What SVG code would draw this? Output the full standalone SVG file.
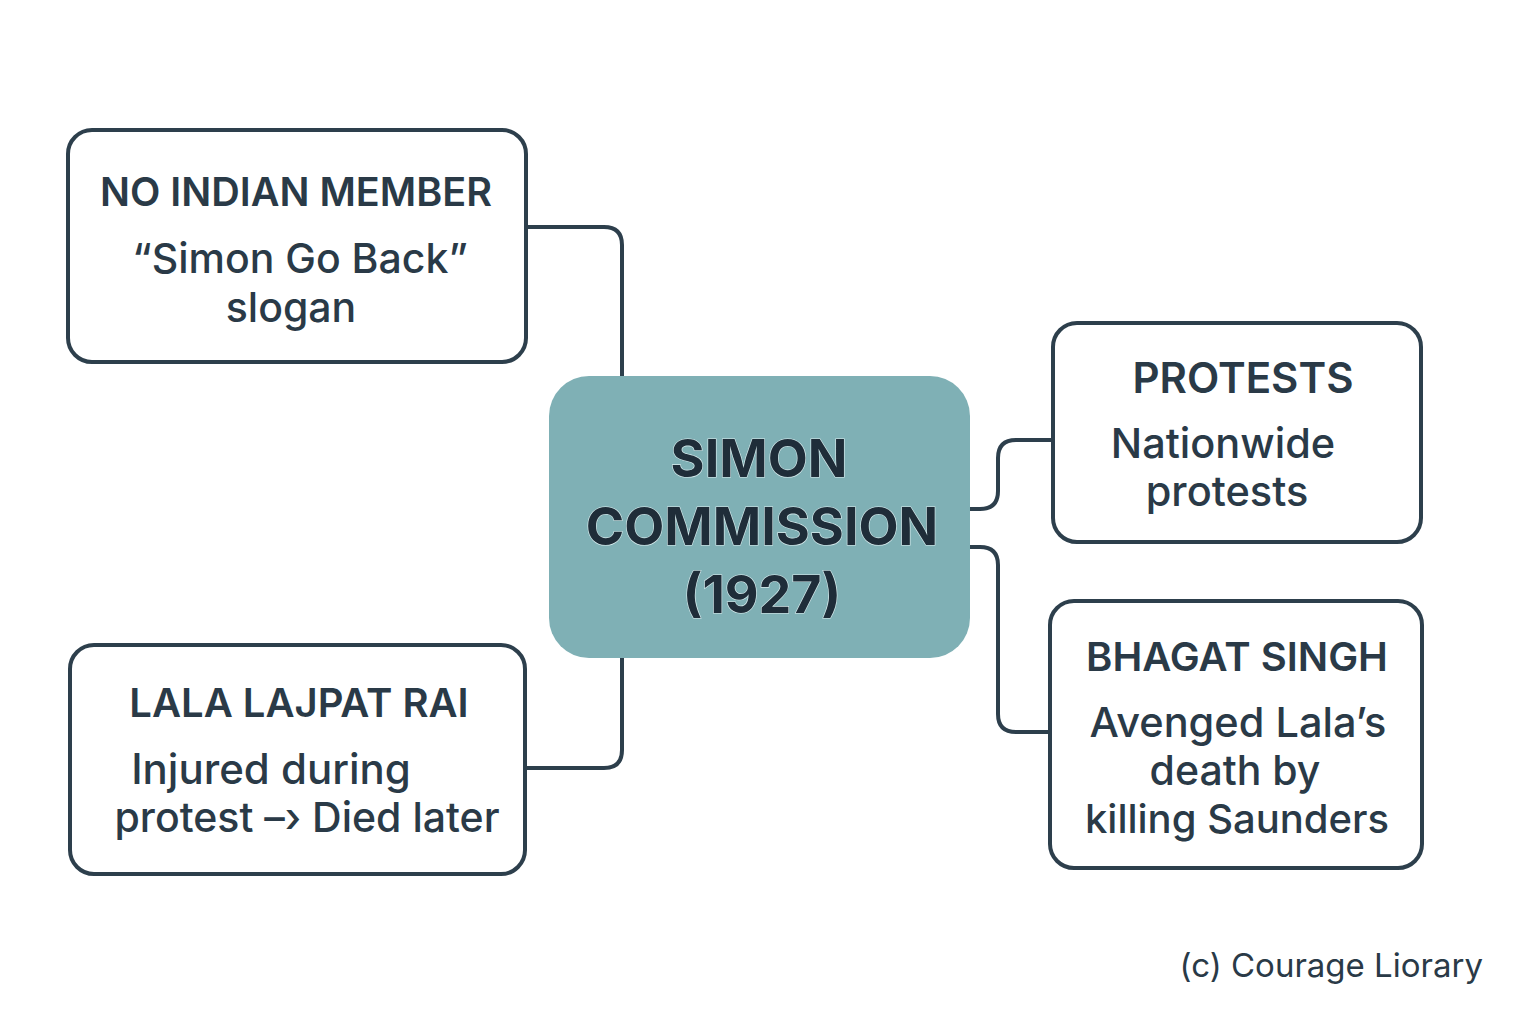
<svg xmlns="http://www.w3.org/2000/svg" width="1536" height="1024" viewBox="0 0 1536 1024">
<style>
.box{fill:#ffffff;stroke:#2d3f4c;stroke-width:4}
.conn{fill:none;stroke:#2d3f4c;stroke-width:4}
text{font-family:Inter,"Noto Sans","Liberation Sans",sans-serif;fill:#2a3a47;text-anchor:middle}
.h{font-size:39px;font-weight:600}
.b{font-size:41px;font-weight:500}
.c{font-size:52px;font-weight:700;fill:#1f2d39;stroke:#d8ecee;stroke-width:1.2;paint-order:stroke}
.f{font-size:33px;font-weight:400;text-anchor:end}
</style>
<rect width="1536" height="1024" fill="#ffffff"/>
<g id="connectors">
<path class="conn" d="M526 227 H604 Q622 227 622 245 V376"/>
<path class="conn" d="M622 658 V750 Q622 768 604 768 H526"/>
<path class="conn" d="M970 509 H980 Q998 509 998 491 V458 Q998 440 1016 440 H1053"/>
<path class="conn" d="M970 547 H980 Q998 547 998 565 V714 Q998 732 1016 732 H1050"/>
</g>
<g id="center">
<rect x="549" y="376" width="421" height="282" rx="40" fill="#7fb0b5"/>
<text class="c" x="759" y="477">SIMON</text>
<text class="c" x="762" y="545">COMMISSION</text>
<text class="c" x="762" y="613">(1927)</text>
</g>
<g id="no-indian-member">
<rect class="box" x="68" y="130" width="458" height="232" rx="24"/>
<text class="h" x="296" y="206" style="font-size:39.5px">NO INDIAN MEMBER</text>
<text class="b" x="300" y="273">“Simon Go Back”</text>
<text class="b" x="291" y="322">slogan</text>
</g>
<g id="lala-lajpat-rai">
<rect class="box" x="70" y="645" width="455" height="229" rx="24"/>
<text class="h" x="299" y="717" style="font-size:40px">LALA LAJPAT RAI</text>
<text class="b" x="271" y="784" style="font-size:42px">Injured during</text>
<text class="b" x="307" y="832">protest –› Died later</text>
</g>
<g id="protests">
<rect class="box" x="1053" y="323" width="368" height="219" rx="24"/>
<text class="h" x="1243" y="393" style="font-size:42px">PROTESTS</text>
<text class="b" x="1223" y="458" style="font-size:41.5px">Nationwide</text>
<text class="b" x="1227" y="506" style="font-size:41.5px">protests</text>
</g>
<g id="bhagat-singh">
<rect class="box" x="1050" y="601" width="372" height="267" rx="24"/>
<text class="h" x="1237" y="671" style="font-size:40px">BHAGAT SINGH</text>
<text class="b" x="1238" y="737" style="font-size:41.5px">Avenged Lala’s</text>
<text class="b" x="1235" y="785" style="font-size:41px">death by</text>
<text class="b" x="1237" y="833" style="font-size:40px">killing Saunders</text>
</g>
<text class="f" x="1483" y="977">(c) Courage Liorary</text>
</svg>
